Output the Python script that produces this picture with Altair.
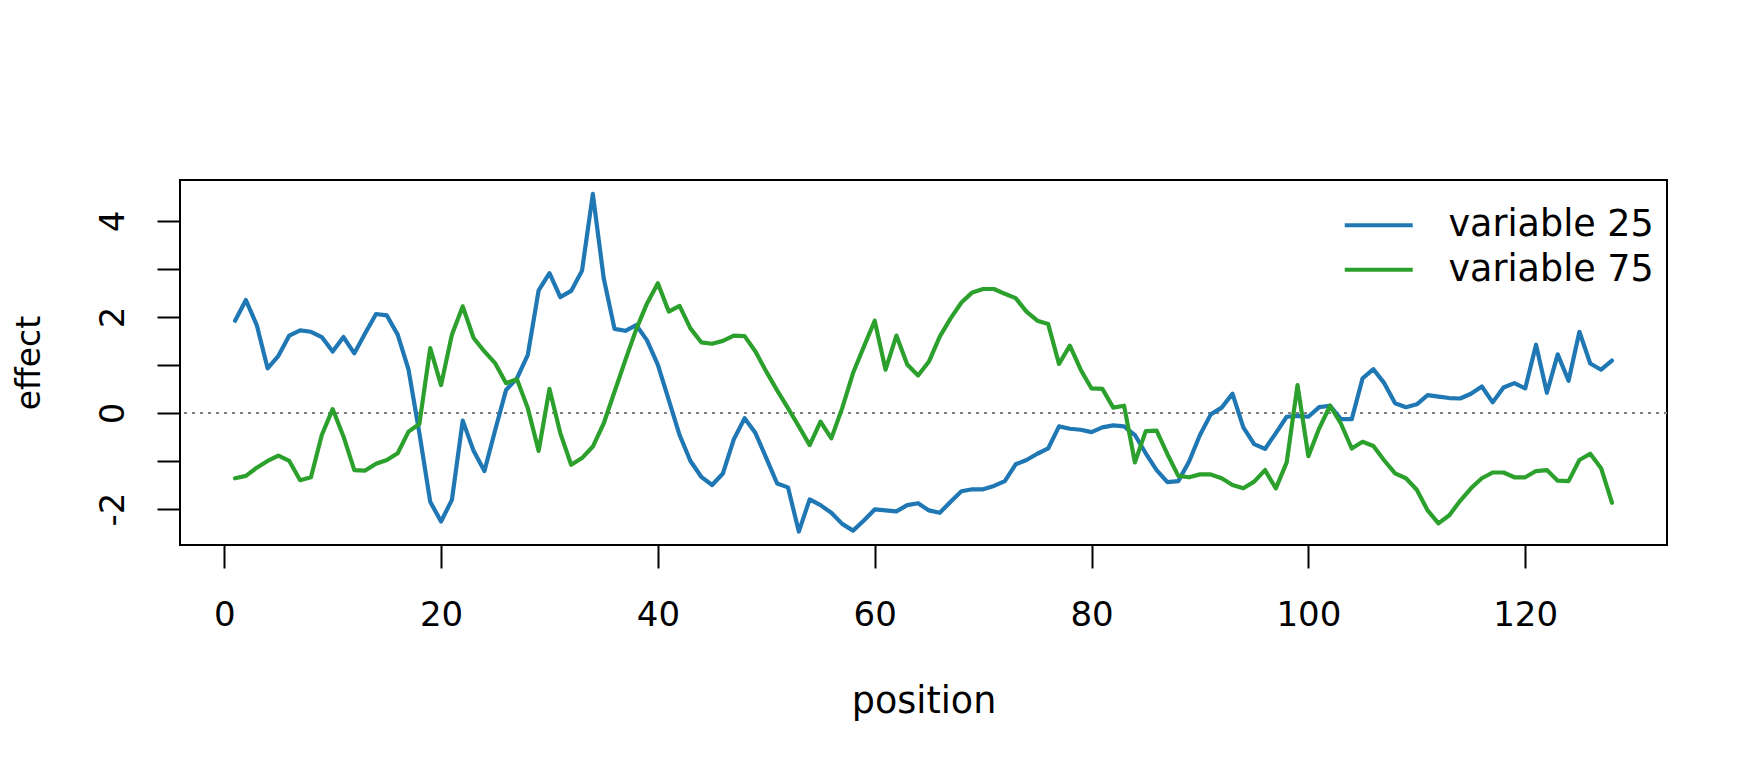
import altair as alt
import pandas as pd

positions = list(range(1, 129))

variable_25 = [
    1.92, 2.35, 1.83, 0.93, 1.19, 1.61, 1.72, 1.69, 1.58, 1.28,
    1.58, 1.24, 1.66, 2.06, 2.03, 1.63, 0.90, -0.42, -1.85, -2.26,
    -1.81, -0.16, -0.79, -1.21, -0.35, 0.48, 0.72, 1.21, 2.55, 2.91,
    2.41, 2.54, 2.96, 4.56, 2.81, 1.75, 1.71, 1.83, 1.51, 1.00,
    0.27, -0.46, -1.00, -1.33, -1.50, -1.26, -0.55, -0.11, -0.42, -0.94,
    -1.47, -1.55, -2.47, -1.80, -1.92, -2.08, -2.31, -2.45, -2.24, -2.01,
    -2.03, -2.05, -1.92, -1.88, -2.03, -2.08, -1.85, -1.63, -1.59, -1.59,
    -1.52, -1.42, -1.07, -0.98, -0.85, -0.74, -0.28, -0.33, -0.35, -0.40,
    -0.30, -0.26, -0.28, -0.46, -0.84, -1.19, -1.44, -1.42, -1.01, -0.46,
    -0.03, 0.11, 0.40, -0.30, -0.65, -0.75, -0.42, -0.08, -0.06, -0.08,
    0.12, 0.15, -0.13, -0.13, 0.72, 0.91, 0.62, 0.20, 0.12, 0.18,
    0.37, 0.34, 0.31, 0.30, 0.40, 0.55, 0.22, 0.53, 0.62, 0.51,
    1.42, 0.42, 1.22, 0.67, 1.69, 1.03, 0.90, 1.09,
]

variable_75 = [
    -1.36, -1.31, -1.14, -1.00, -0.89, -1.00, -1.40, -1.34, -0.46, 0.08,
    -0.49, -1.19, -1.20, -1.06, -0.98, -0.84, -0.39, -0.23, 1.35, 0.58,
    1.63, 2.22, 1.56, 1.28, 1.03, 0.62, 0.70, 0.10, -0.79, 0.50,
    -0.42, -1.08, -0.94, -0.70, -0.22, 0.44, 1.10, 1.74, 2.28, 2.70,
    2.11, 2.23, 1.76, 1.47, 1.44, 1.50, 1.61, 1.60, 1.28, 0.86,
    0.47, 0.10, -0.28, -0.67, -0.18, -0.53, 0.10, 0.83, 1.38, 1.92,
    0.90, 1.61, 1.01, 0.78, 1.07, 1.59, 1.97, 2.30, 2.51, 2.58,
    2.58, 2.48, 2.39, 2.11, 1.92, 1.85, 1.02, 1.40, 0.90, 0.51,
    0.50, 0.11, 0.15, -1.03, -0.38, -0.37, -0.86, -1.31, -1.34, -1.28,
    -1.28, -1.36, -1.50, -1.57, -1.43, -1.19, -1.57, -1.03, 0.58, -0.90,
    -0.32, 0.15, -0.22, -0.74, -0.60, -0.69, -0.99, -1.26, -1.36, -1.60,
    -2.03, -2.30, -2.13, -1.83, -1.57, -1.36, -1.24, -1.24, -1.34, -1.34,
    -1.21, -1.19, -1.41, -1.42, -0.98, -0.85, -1.15, -1.87,
]

series_names = ["variable 25", "variable 75"]
series_colors = ["#1f77b4", "#2ca02c"]
x_ticks = [0, 20, 40, 60, 80, 100, 120]
y_ticks = [-2, -1, 0, 1, 2, 3, 4]
reference_level = [0]

rows = []
for name, vals in zip(series_names, [variable_25, variable_75]):
    for p, v in zip(positions, vals):
        rows.append({"position": p, "effect": v, "series": name})
df = pd.DataFrame(rows)
ref_df = pd.DataFrame({"effect": reference_level})

FONT = "DejaVu Sans"
FS = 34
FS_TEXT = 36.5

x_scale = alt.Scale(domain=[-4.08, 133.08], nice=False, zero=False)
y_scale = alt.Scale(domain=[-2.75, 4.85], nice=False, zero=False)

x_axis = alt.Axis(
    values=x_ticks, title="position", grid=False, domain=False,
    tickSize=23, tickWidth=2, tickColor="black",
    labelFont=FONT, labelFontSize=FS, labelColor="black",
    labelPadding=57, labelBaseline="alphabetic", labelAngle=0,
    titleFont=FONT, titleFontSize=FS_TEXT, titleFontWeight="normal", titleColor="black",
    titleBaseline="alphabetic", titleY=167, titleX=743.5, titleAlign="center",
)
y_axis = alt.Axis(
    values=y_ticks, title="effect", grid=False, domain=False,
    tickSize=23, tickWidth=2, tickColor="black",
    labelFont=FONT, labelFontSize=FS, labelColor="black",
    labelAngle=270, labelAlign="center", labelBaseline="alphabetic",
    labelPadding=34,
    labelExpr="datum.value % 2 == 0 ? toString(datum.value) : ''",
    titleFont=FONT, titleFontSize=33, titleFontWeight="normal", titleColor="black",
    titleAngle=270, titleAlign="center", titleBaseline="alphabetic",
    titleX=-140.5, titleY=182.5,
)

ref = alt.Chart(ref_df).mark_rule(
    color="#808080", strokeWidth=2, strokeDash=[3, 5]
).encode(y=alt.Y("effect:Q", scale=y_scale, axis=y_axis))

lines = alt.Chart(df).mark_line(strokeWidth=4.2, strokeCap="round", strokeJoin="round").encode(
    x=alt.X("position:Q", scale=x_scale, axis=x_axis),
    y=alt.Y("effect:Q", scale=y_scale, axis=y_axis),
    color=alt.Color(
        "series:N",
        scale=alt.Scale(domain=series_names, range=series_colors),
        legend=alt.Legend(
            title=None, orient="none", legendX=1180.5, legendY=27,
            symbolType="M-4,0H4", symbolSize=289, symbolStrokeWidth=4.2,
            labelFont=FONT, labelFontSize=FS_TEXT, labelColor="black",
            labelLimit=500, labelOffset=51.5, rowPadding=7.5, padding=0,
        ),
    ),
)

chart = alt.layer(ref, lines).properties(
    width=1487, height=365,
    padding={"left": 172, "top": 172, "right": 85, "bottom": 217},
    autosize=alt.AutoSizeParams(type="none"),
    background="white",
).configure_view(stroke="black", strokeWidth=2, fill="white")

chart.save("out.html", embed_options={"renderer": "svg", "actions": False})
